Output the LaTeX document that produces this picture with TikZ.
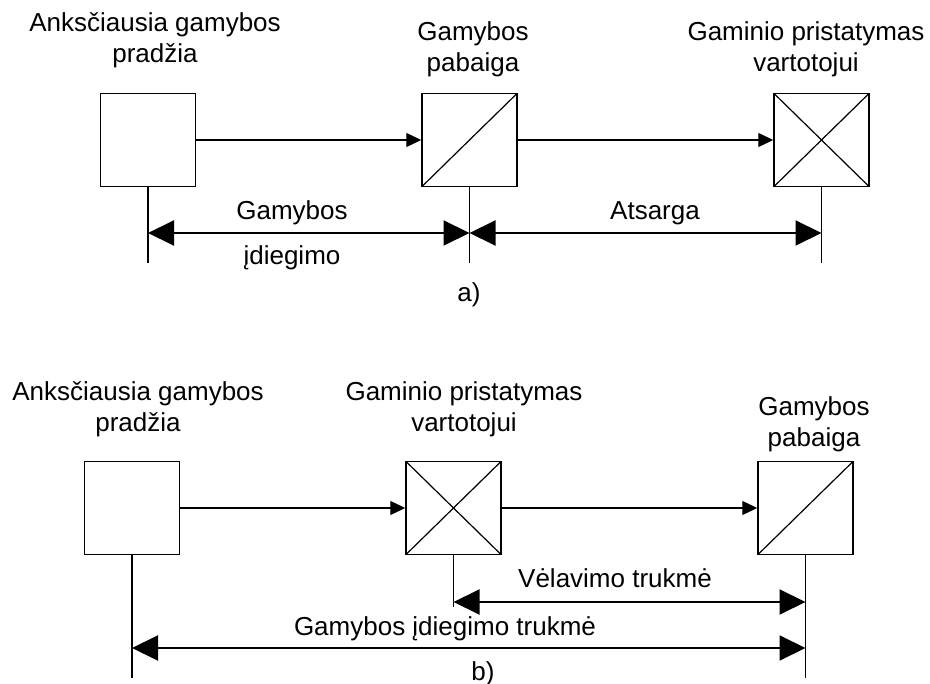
\documentclass[tikz,border=0pt]{standalone}
\usepackage{fontspec}
\setmainfont{Liberation Sans}
\usepackage{tikz}
\usetikzlibrary{arrows.meta,positioning,calc}

\tikzset{
  evt/.style={draw, line width=1.5pt, minimum width=95pt, minimum height=93pt, inner sep=0pt},
  evtslash/.style={evt, path picture={\draw[line width=1.2pt] (path picture bounding box.south west) -- (path picture bounding box.north east);}},
  evtcross/.style={evt, path picture={
      \draw[line width=1.2pt] (path picture bounding box.south west) -- (path picture bounding box.north east);
      \draw[line width=1.2pt] (path picture bounding box.north west) -- (path picture bounding box.south east);}},
  lbl/.style={align=center, anchor=base, inner sep=0pt, font=\fontsize{26}{31}\selectfont},
  flow/.style={-{Triangle[length=15pt,width=14pt]}, line width=1.3pt},
  dim/.style={{Triangle[length=26pt,width=25pt]}-{Triangle[length=26pt,width=25pt]}, line width=2pt},
  tick/.style={line width=1.4pt}
}

\begin{document}
\begin{tikzpicture}[x=1pt, y=-1pt]
\useasboundingbox (0,0) rectangle (930,684);

% a) events
\node[evt] (a1) at (148,140) {};
\node[evtslash] (a2) at (469.5,140) {};
\node[evtcross] (a3) at (821.5,140) {};

% a) labels (anchored on the last line)
\node[lbl] (la1) at (155,63) {Anksčiausia gamybos\\pradžia};
\node[lbl] (la2) at (473,72) {Gamybos\\pabaiga};
\node[lbl] (la3) at (806,72) {Gaminio pristatymas\\vartotojui};

% a) tick ends and dimension ends
\coordinate (ta1) at (148,263);
\coordinate (ta2) at (469.5,263);
\coordinate (ta3) at (821.5,263);
\coordinate (da1) at (148,233);
\coordinate (da2) at (469.5,233);
\coordinate (da3) at (821.5,233);

% a) connections
\foreach \from/\to in {a1/a2, a2/a3}
    \draw[flow] (\from) -- (\to);
\foreach \ev/\tk in {a1/ta1, a2/ta2, a3/ta3}
    \draw[tick] (\ev.south) -- (\tk);
\draw[dim] (da1) -- (da2);
\draw[dim] (da2) -- (da3);

\node[lbl] (gam) at (292,220) {Gamybos};
\node[lbl] (idg) at (292,265) {įdiegimo};
\node[lbl] (ats) at (655,220) {Atsarga};
\node[lbl] (capa) at (469,302) {a)};

% b) events
\node[evt] (b1) at (132,508) {};
\node[evtcross] (b2) at (453.5,508) {};
\node[evtslash] (b3) at (805.5,508) {};

% b) labels (anchored on the last line)
\node[lbl] (lb1) at (138,432) {Anksčiausia gamybos\\pradžia};
\node[lbl] (lb2) at (464,432) {Gaminio pristatymas\\vartotojui};
\node[lbl] (lb3) at (814,447) {Gamybos\\pabaiga};

% b) tick ends and dimension ends
\coordinate (tb1) at (132,678);
\coordinate (tb2) at (453.5,607);
\coordinate (tb3) at (805.5,678);
\coordinate (db2) at (453.5,602);
\coordinate (db3) at (805.5,602);
\coordinate (eb1) at (132,648);
\coordinate (eb3) at (805.5,648);

% b) connections
\foreach \from/\to in {b1/b2, b2/b3}
    \draw[flow] (\from) -- (\to);
\foreach \ev/\tk in {b1/tb1, b2/tb2, b3/tb3}
    \draw[tick] (\ev.south) -- (\tk);
\draw[dim] (db2) -- (db3);
\draw[dim] (eb1) -- (eb3);

\node[lbl] (vel) at (615,588) {Vėlavimo trukmė};
\node[lbl] (gtr) at (445,635) {Gamybos įdiegimo trukmė};
\node[lbl] (capb) at (483,680) {b)};

\end{tikzpicture}
\end{document}
